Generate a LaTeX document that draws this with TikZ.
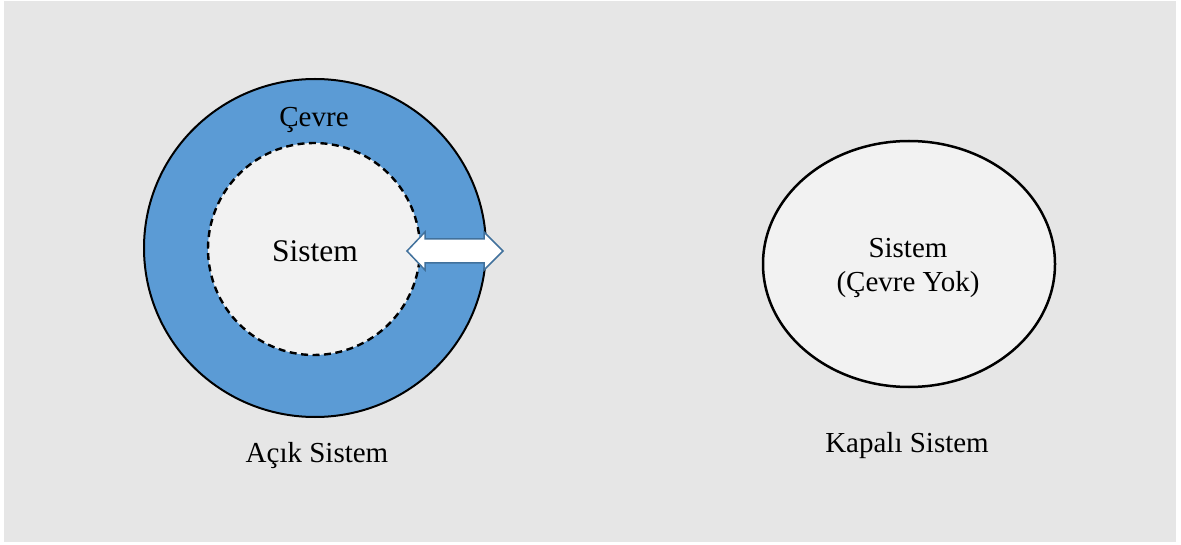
\documentclass[tikz,border=0pt]{standalone}
\usepackage{fontspec}
\setmainfont{Liberation Serif}
\begin{document}
\begin{tikzpicture}[x=1pt,y=-1pt,
  label29/.style={font=\fontsize{29}{34}\selectfont, inner sep=0pt, anchor=base},
  label31/.style={font=\fontsize{31.5}{36}\selectfont, inner sep=0pt, anchor=base}]
\definecolor{bggray}{HTML}{E6E6E6}
\definecolor{ringblue}{HTML}{5B9BD5}
\definecolor{arrowedge}{HTML}{41719C}
\definecolor{sysfill}{HTML}{F2F2F2}
% page and panel
\fill[white] (0,0) rectangle (1181,545);
\useasboundingbox (0,0) rectangle (1181,545);
\fill[bggray] (4,1) rectangle (1176,542);

% open system: environment ring and dashed system boundary
\fill[ringblue, draw=black, line width=2pt] (315,248) ellipse [x radius=171, y radius=169];
\fill[sysfill] (314,249) circle [radius=106];
\draw[black, line width=2.4pt, dash pattern=on 7pt off 4.5pt] (314,249) circle [radius=106];

% exchange arrow across the boundary
\coordinate (lt) at (407,251);
\coordinate (rt) at (503,251);
\draw[arrowedge, fill=white, line width=1.5pt, line join=miter]
  (lt) -- (425,232) -- (425,239) -- (484,239) -- (484,232) -- (rt)
  -- (484,270) -- (484,263) -- (425,263) -- (425,270) -- cycle;

\node[label29] (cevre) at (314,127) {Çevre};
\node[label31] (sistemA) at (315,262) {Sistem};
\node[label29] (acik) at (317,462) {Açık Sistem};

% closed system
\fill[sysfill, draw=black, line width=2.5pt] (909,264) ellipse [x radius=146, y radius=123];
\node[label29] (sistemB) at (908,258) {Sistem};
\node[label29] (yok) at (908,292) {(Çevre Yok)};
\node[label29] (kapali) at (907,452) {Kapalı Sistem};
\end{tikzpicture}
\end{document}
